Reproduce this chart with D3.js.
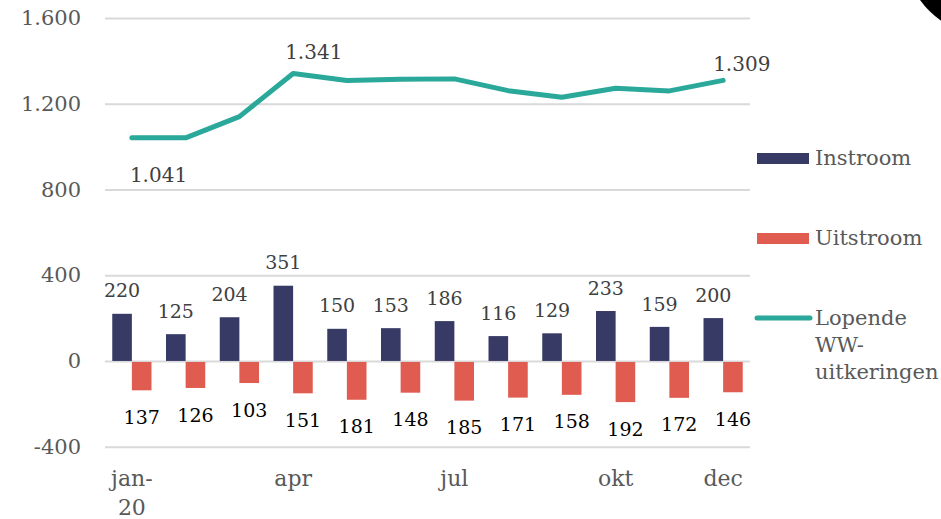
<!DOCTYPE html>
<html>
<head>
<meta charset="utf-8">
<script src="https://cdn.jsdelivr.net/npm/d3@7"></script>
<style>
  body { margin: 0; background: #fff; }
  svg text { font-family: "DejaVu Serif", serif; }
</style>
</head>
<body>
<div id="chart"></div>
<script>
const months = ["jan-20", "feb", "mrt", "apr", "mei", "jun", "jul", "aug", "sep", "okt", "nov", "dec"];
const shownTicks = ["jan-20", "apr", "jul", "okt", "dec"];
const instroom = [220, 125, 204, 351, 150, 153, 186, 116, 129, 233, 159, 200];
const uitstroom = [-137, -126, -103, -151, -181, -148, -185, -171, -158, -192, -172, -146];
const lopende = [1041, 1041, 1140, 1341, 1308, 1314, 1316, 1261, 1230, 1272, 1260, 1309];
const yTicks = [-400, 0, 400, 800, 1200, 1600];
const seriesNames = ["Instroom", "Uitstroom", "Lopende WW-uitkeringen"];

const width = 941, height = 519;
const margin = { top: 18, left: 105, right: 191, bottom: 72 };
const colors = { Instroom: "#383a66", Uitstroom: "#e05c50", Lopende: "#2aa89a" };

const nl = d3.formatLocale({ decimal: ",", thousands: ".", grouping: [3], currency: ["€", ""], minus: "-" });
const fmt = nl.format(",d");

const svg = d3.select("#chart").append("svg")
  .attr("width", width)
  .attr("height", height);

// black corner decoration
svg.append("circle")
  .attr("cx", 990).attr("cy", -50).attr("r", 86)
  .attr("fill", "#000");

const x = d3.scaleBand()
  .domain(months)
  .range([margin.left, width - margin.right])
  .paddingInner(0.27)
  .paddingOuter(0.135);

const x1 = d3.scaleBand()
  .domain(["in", "uit"])
  .range([0, x.bandwidth()]);

const y = d3.scaleLinear()
  .domain([-400, 1600])
  .range([height - margin.bottom - 0.3, margin.top]);

// gridlines + y labels
const yAxis = svg.append("g")
  .attr("transform", `translate(${margin.left},0)`)
  .call(d3.axisLeft(y).tickValues(yTicks).tickFormat(fmt)
    .tickSize(-(width - margin.left - margin.right)).tickPadding(24));
yAxis.select(".domain").remove();
yAxis.selectAll("line").attr("stroke", "#d9d9d9").attr("stroke-width", 2);
yAxis.selectAll("text").attr("fill", "#595959").style("font-size", "21px");

// bars
const bars = svg.append("g");
bars.selectAll(".in")
  .data(instroom)
  .join("rect")
  .attr("x", (d, i) => x(months[i]) + x1("in"))
  .attr("width", x1.bandwidth())
  .attr("y", d => y(d))
  .attr("height", d => y(0) - y(d))
  .attr("fill", colors.Instroom);
bars.selectAll(".uit")
  .data(uitstroom)
  .join("rect")
  .attr("x", (d, i) => x(months[i]) + x1("uit"))
  .attr("width", x1.bandwidth())
  .attr("y", y(0) + 1)
  .attr("height", d => y(d) - y(0) - 1)
  .attr("fill", colors.Uitstroom);

// bar labels
svg.append("g").selectAll("text")
  .data(instroom)
  .join("text")
  .attr("x", (d, i) => x(months[i]) + x1("in") + x1.bandwidth() / 2)
  .attr("y", d => y(d) - 23)
  .attr("dy", "0.35em")
  .attr("text-anchor", "middle")
  .attr("fill", "#404040")
  .style("font-size", "19px")
  .text(d => fmt(d));
svg.append("g").selectAll("text")
  .data(uitstroom)
  .join("text")
  .attr("x", (d, i) => x(months[i]) + x1("uit") + x1.bandwidth() / 2)
  .attr("y", d => y(d) + 27)
  .attr("dy", "0.35em")
  .attr("text-anchor", "middle")
  .attr("fill", "#000")
  .style("font-size", "19px")
  .text(d => fmt(-d));

// line
const line = d3.line()
  .x((d, i) => x(months[i]) + x.bandwidth() / 2)
  .y(d => y(d));
svg.append("path")
  .datum(lopende)
  .attr("d", line)
  .attr("fill", "none")
  .attr("stroke", colors.Lopende)
  .attr("stroke-width", 5)
  .attr("stroke-linecap", "round")
  .attr("stroke-linejoin", "round");

// line labels (first, apr, dec)
const lineLabels = [
  { i: 0, dx: -2, dy: 37 },
  { i: 3, dx: -8, dy: -22 },
  { i: 11, dx: -10, dy: -16 }
];
svg.append("g").selectAll("text")
  .data(lineLabels)
  .join("text")
  .attr("x", d => x(months[d.i]) + x.bandwidth() / 2 + d.dx)
  .attr("y", d => y(lopende[d.i]) + d.dy)
  .attr("dy", "0.35em")
  .attr("fill", "#404040")
  .style("font-size", "20px")
  .text(d => fmt(lopende[d.i]));

// x labels
const xl = svg.append("g");
shownTicks.forEach(m => {
  const parts = m.includes("-") ? [m.split("-")[0] + "-", m.split("-")[1]] : [m];
  const t = xl.append("text")
    .attr("x", x(m) + x.bandwidth() / 2)
    .attr("y", 478)
    .attr("dy", "0.35em")
    .attr("text-anchor", "middle")
    .attr("fill", "#595959")
    .style("font-size", "22px");
  parts.forEach((p, k) => {
    t.append("tspan")
      .attr("x", x(m) + x.bandwidth() / 2)
      .attr("dy", k === 0 ? "0.35em" : "29px")
      .text(p);
  });
});

// legend
const legend = svg.append("g");
legend.append("rect")
  .attr("x", 757).attr("y", 153).attr("width", 52).attr("height", 11)
  .attr("fill", colors.Instroom);
legend.append("rect")
  .attr("x", 757).attr("y", 233).attr("width", 52).attr("height", 11)
  .attr("fill", colors.Uitstroom);
legend.append("line")
  .attr("x1", 757).attr("x2", 810).attr("y1", 318).attr("y2", 318)
  .attr("stroke", colors.Lopende).attr("stroke-width", 5)
  .attr("stroke-linecap", "round");

const legendText = [
  { lines: [seriesNames[0]], y: 158 },
  { lines: [seriesNames[1]], y: 238 },
  { lines: ["Lopende", "WW-", "uitkeringen"], y: 318 }
];
legendText.forEach(l => {
  l.lines.forEach((s, k) => {
    legend.append("text")
      .attr("x", 815)
      .attr("y", l.y + k * 27)
      .attr("dy", "0.35em")
      .attr("fill", "#595959")
      .style("font-size", "21px")
      .text(s);
  });
});
</script>
</body>
</html>
